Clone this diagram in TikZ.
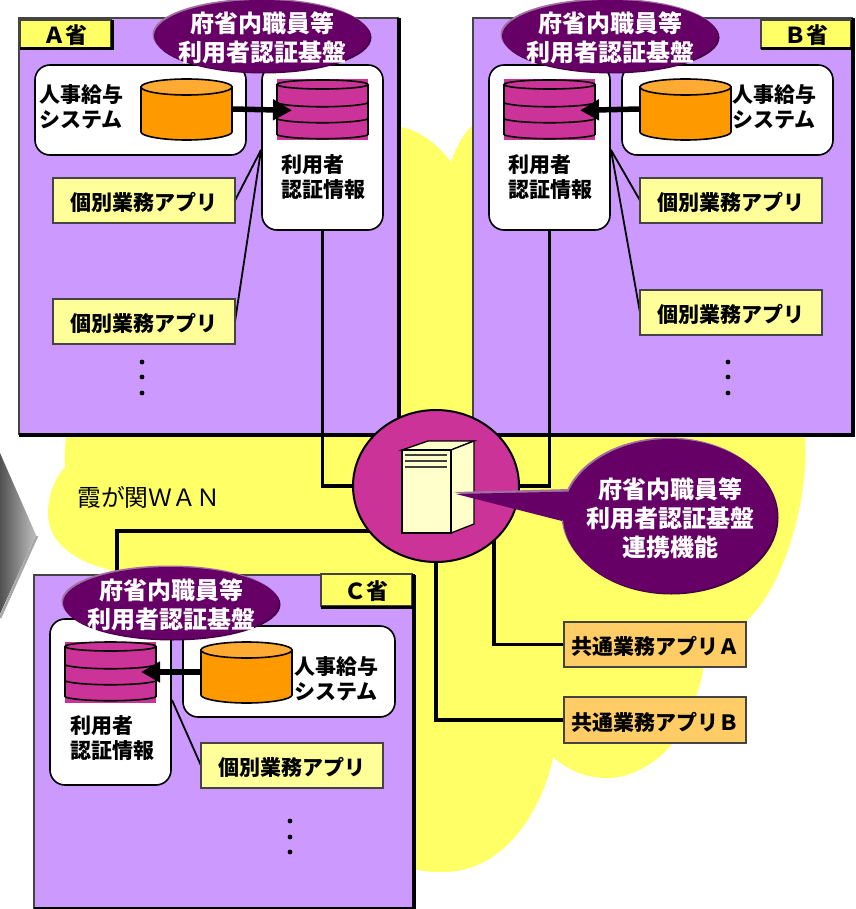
\documentclass[tikz,border=0pt]{standalone}
\usepackage{fontspec}
\setmainfont{Noto Sans CJK JP}
\usetikzlibrary{shapes.geometric,arrows.meta}
\definecolor{cloudY}{HTML}{FFFF66}
\definecolor{provP}{HTML}{CC99FF}
\definecolor{deep}{HTML}{660066}
\definecolor{deepL}{HTML}{A070A0}
\definecolor{deepD}{HTML}{470047}
\definecolor{pinkC}{HTML}{CC3399}
\definecolor{orangeC}{HTML}{FF9900}
\definecolor{orangeT}{HTML}{FFAA33}
\definecolor{appY}{HTML}{FFFF99}
\definecolor{commonC}{HTML}{FFCC66}
\definecolor{servC}{HTML}{FFFFCC}
\definecolor{edgeG}{HTML}{444444}
\pgfdeclarelayer{back}
\pgfdeclarelayer{wires}
\pgfsetlayers{back,wires,main}
\tikzset{
  bxbase/.style={rectangle,inner sep=0pt,outer sep=0pt},
  provbox/.style={bxbase,fill=provP,draw=edgeG,line width=2.5pt},
  tagbox/.style={bxbase,fill=cloudY,draw=edgeG,line width=2pt,font=\bfseries\fontsize{22}{26}\selectfont},
  whitebox/.style={bxbase,fill=white,draw=black,line width=1.6pt,rounded corners=15pt},
  appbox/.style={bxbase,fill=appY,draw=edgeG,line width=1.8pt,font=\bfseries\fontsize{21}{25}\selectfont},
  commonbox/.style={bxbase,fill=commonC,draw=edgeG,line width=2pt,font=\bfseries\fontsize{21}{25}\selectfont},
  lbl/.style={inner sep=0pt,align=left,font=\bfseries\fontsize{21}{25.5}\selectfont},
  whitelbl/.style={inner sep=0pt,align=center,text=white,font=\bfseries\fontsize{24}{29}\selectfont},
  purpleell/.style={ellipse,fill=deep,inner sep=0pt,minimum width=216pt,minimum height=72pt},
  wire/.style={draw=black,line width=3.6pt},
  thinwire/.style={draw=black,line width=1.8pt},
  bigarrow/.style={draw=black,line width=5.5pt,-{Triangle[width=20pt,length=19pt]}},
  dbline/.style={draw=black,line width=1.6pt},
}
\newcommand\dn[1]{\raisebox{-2pt}[\height][\depth]{#1}}
% name x1 y1 x2 y2 style text
\newcommand\bx[7]{\node[#6,minimum width={(#4-#2)*1pt},minimum height={(#5-#3)*1pt}] (#1) at ({(#2+#4)/2},{(#3+#5)/2}) {#7};}
% heavy right and bottom sides
\newcommand\heavy[2]{\draw[black,line width=#2] ([xshift=1pt]#1.north east) -- ([xshift=1pt,yshift=-1pt]#1.south east) -- ([yshift=-1pt]#1.south west);}
\newcommand\halo[2]{\fill[deepL] ({#1-1.5},{#2-1.5}) ellipse [x radius=108pt,y radius=36pt];\fill[deepD] ({#1+1.5},{#2+1.5}) ellipse [x radius=108pt,y radius=36pt];}
% orange cylinder: name, left x, top y
\newcommand\orangedb[3]{\begin{scope}[shift={(#2,#3)}]
  \node[bxbase,minimum width=91pt,minimum height=60pt] (#1) at (45.5,30) {};
  \path[fill=orangeC,dbline] (0,8) -- (0,53) .. controls (0,57) and (20,61) .. (45.5,61) .. controls (71,61) and (91,57) .. (91,53) -- (91,8) -- cycle;
  \path[fill=orangeT,dbline] (45.5,8) ellipse [x radius=45.5pt,y radius=8pt];
\end{scope}}
% pink stack: name, left x, top y
\newcommand\pinkdb[3]{\begin{scope}[shift={(#2,#3)}]
  \node[bxbase,fill=pinkC,minimum width=91pt,minimum height=61pt] (#1) at (45.5,30) {};
  \path[dbline] (45.5,4.5) ellipse [x radius=45.5pt,y radius=4.5pt];
  \path[dbline] (0,4.5) -- (0,55) (91,4.5) -- (91,55);
  \path[dbline] (0,23) .. controls (15,28) and (76,28) .. (91,23);
  \path[dbline] (0,39) .. controls (15,44) and (76,44) .. (91,39);
  \path[dbline] (0,55) .. controls (15,60) and (76,60) .. (91,55);
\end{scope}}
\newcommand\threedots[4]{\fill (#1,#2) circle (2.4pt) (#1,#3) circle (2.4pt) (#1,#4) circle (2.4pt);}
\begin{document}
\begin{tikzpicture}[x=1pt,y=-1pt]
\useasboundingbox (0,0) rectangle (855,909);
\begin{pgfonlayer}{back}
  % cloud
  \fill[cloudY] (400,127) .. controls (420,130) and (438,145) .. (451,162)
    .. controls (455,150) and (462,135) .. (473,125) -- (800,300) -- (805,435)
    .. controls (810,500) and (782,590) .. (747,620) -- (704,665)
    .. controls (702,680) and (690,725) .. (673,743)
    .. controls (655,765) and (630,778) .. (607,778)
    .. controls (585,778) and (568,770) .. (553,757)
    .. controls (545,800) and (510,872) .. (443,872)
    .. controls (430,872) and (420,871) .. (410,868) -- (110,570)
    .. controls (70,560) and (48,540) .. (48,513)
    .. controls (48,495) and (55,478) .. (65,467)
    .. controls (64,455) and (65,445) .. (67,430) -- cycle;
  % chevron
  \shade[left color=black!68,right color=black!25] (0,453) -- (36,535) -- (0,614) -- cycle;
  \draw[black!35,line width=2.5pt] (37,536) -- (0,618);
  % provinces
  \bx{provA}{19}{18}{398}{434}{provbox}{}
  \heavy{provA}{3.5pt}
  \bx{provB}{473}{18}{852}{434}{provbox}{}
  \heavy{provB}{3.5pt}
  \bx{provC}{34}{575}{413}{908}{provbox}{}
  \heavy{provC}{3.5pt}
\end{pgfonlayer}

\bx{tagA}{20}{20}{111}{48}{tagbox}{\raisebox{-1pt}[\height][\depth]{Ａ省}}
\heavy{tagA}{3pt}
\bx{tagB}{761}{20}{851}{48}{tagbox}{\raisebox{-1pt}[\height][\depth]{Ｂ省}}
\heavy{tagB}{3pt}
\bx{tagC}{321}{574}{412}{606}{tagbox}{\raisebox{-1pt}[\height][\depth]{Ｃ省}}
\heavy{tagC}{3pt}

\node[lbl,anchor=west,font=\fontsize{23.8}{28}\selectfont] (wan) at (77,497) {霞が関ＷＡＮ};

% province A
\bx{staffA}{35}{65}{246}{155}{whitebox}{}
\bx{infoA}{262}{65}{383}{230}{whitebox}{}
\orangedb{dbA}{141}{79}
\pinkdb{pinkA}{277}{80}
\node[lbl] (staffTA) at (81,107) {人事給与\\システム};
\node[lbl] (infoTA) at (323,177) {利用者\\認証情報};
\bx{appA1}{53}{178}{235}{223}{appbox}{\dn{個別業務アプリ}}
\bx{appA2}{53}{299}{235}{344}{appbox}{\dn{個別業務アプリ}}
\threedots{142}{362}{377}{393}
\draw[bigarrow,shorten >=-15pt] (dbA.east) -- (pinkA.west);
\halo{262}{36}
\node[purpleell] (ellA) at (262,36) {};
\node[whitelbl] (ellTA) at (262,38) {府省内職員等\\利用者認証基盤};

% province B
\bx{staffB}{622}{65}{833}{155}{whitebox}{}
\bx{infoB}{489}{65}{610}{230}{whitebox}{}
\orangedb{dbB}{640}{79}
\pinkdb{pinkB}{504}{80}
\node[lbl] (staffTB) at (774,107) {人事給与\\システム};
\node[lbl] (infoTB) at (550,177) {利用者\\認証情報};
\bx{appB1}{640}{178}{822}{223}{appbox}{\dn{個別業務アプリ}}
\bx{appB2}{640}{290}{822}{335}{appbox}{\dn{個別業務アプリ}}
\threedots{728}{362}{377}{393}
\draw[bigarrow,shorten >=-15pt] (dbB.west) -- (pinkB.east);
\halo{610}{36}
\node[purpleell] (ellB) at (610,36) {};
\node[whitelbl] (ellTB) at (610,38) {府省内職員等\\利用者認証基盤};

% province C
\bx{staffC}{183}{626}{395}{717}{whitebox}{}
\bx{infoC}{50}{619}{171}{785}{whitebox}{}
\orangedb{dbC}{201}{642}
\pinkdb{pinkCC}{65}{642}
\node[lbl] (staffTC) at (336,679) {人事給与\\システム};
\node[lbl] (infoTC) at (112,738) {利用者\\認証情報};
\bx{appC1}{201}{743}{383}{788}{appbox}{\dn{個別業務アプリ}}
\threedots{290}{821}{837}{852}
\draw[bigarrow,shorten >=-15pt] (dbC.west) -- (pinkCC.east);
\halo{171}{603}
\node[purpleell] (ellC) at (171,603) {};
\node[whitelbl] (ellTC) at (171,605) {府省内職員等\\利用者認証基盤};

% hub and server
\node[ellipse,draw=black,line width=2pt,fill=pinkC,inner sep=0pt,minimum width=166pt,minimum height=152pt] (hub) at (436,486) {};
\begin{scope}[draw=black,line width=1.3pt,fill=servC]
  \path[fill=servC,draw] (402,450) -- (428,441) -- (474,441) -- (451,450) -- cycle;
  \path[fill=servC,draw] (451,450) -- (474,441) -- (474,524) -- (451,533) -- cycle;
  \path[fill=servC,draw] (402,450) rectangle (451,533);
\end{scope}
\draw[black!75,line width=2.8pt] (405,455) -- (447,455) (405,461) -- (447,461) (405,467) -- (447,467);

% callout
\fill[deepL] (454,492) -- (570,489) -- (562,520) -- cycle;
\fill[deepL] (668.5,514.5) ellipse [x radius=107pt,y radius=77pt];
\fill[deepD] (671.5,517.5) ellipse [x radius=107pt,y radius=77pt];
\fill[deep] (456,494) -- (575,491.5) -- (562,521) -- cycle;
\node[ellipse,fill=deep,inner sep=0pt,minimum width=214pt,minimum height=154pt] (callout) at (670,516) {};
\node[whitelbl] (calloutT) at (670,518) {府省内職員等\\利用者認証基盤\\連携機能};

% common apps
\bx{commonA}{564}{622}{746}{667}{commonbox}{\dn{共通業務アプリＡ}}
\bx{commonB}{564}{697}{746}{743}{commonbox}{\dn{共通業務アプリＢ}}

\coordinate (joinC) at (117,531);
\coordinate (hubSE) at (494,535);
\coordinate (fanA) at (261,150);
\coordinate (fanB) at (611,150);
\coordinate (fanC) at (172,700);
\begin{pgfonlayer}{wires}
  \draw[wire] (infoA.south) |- (hub.west);
  \draw[wire] (infoB.south) |- (hub.east);
  \draw[wire] (hub.center |- joinC) -- (joinC) -- (joinC |- infoC.north);
  \draw[wire] (commonA.west) -| (hubSE);
  \draw[wire] (commonB.west) -| (hub.south);
  \draw[thinwire] (appA1.east) -- (fanA);
  \draw[thinwire] (appA2.east) -- (fanA);
  \draw[thinwire] (appB1.west) -- (fanB);
  \draw[thinwire] (appB2.west) -- (fanB);
  \draw[thinwire] (appC1.west) -- (fanC);
\end{pgfonlayer}
\end{tikzpicture}
\end{document}
